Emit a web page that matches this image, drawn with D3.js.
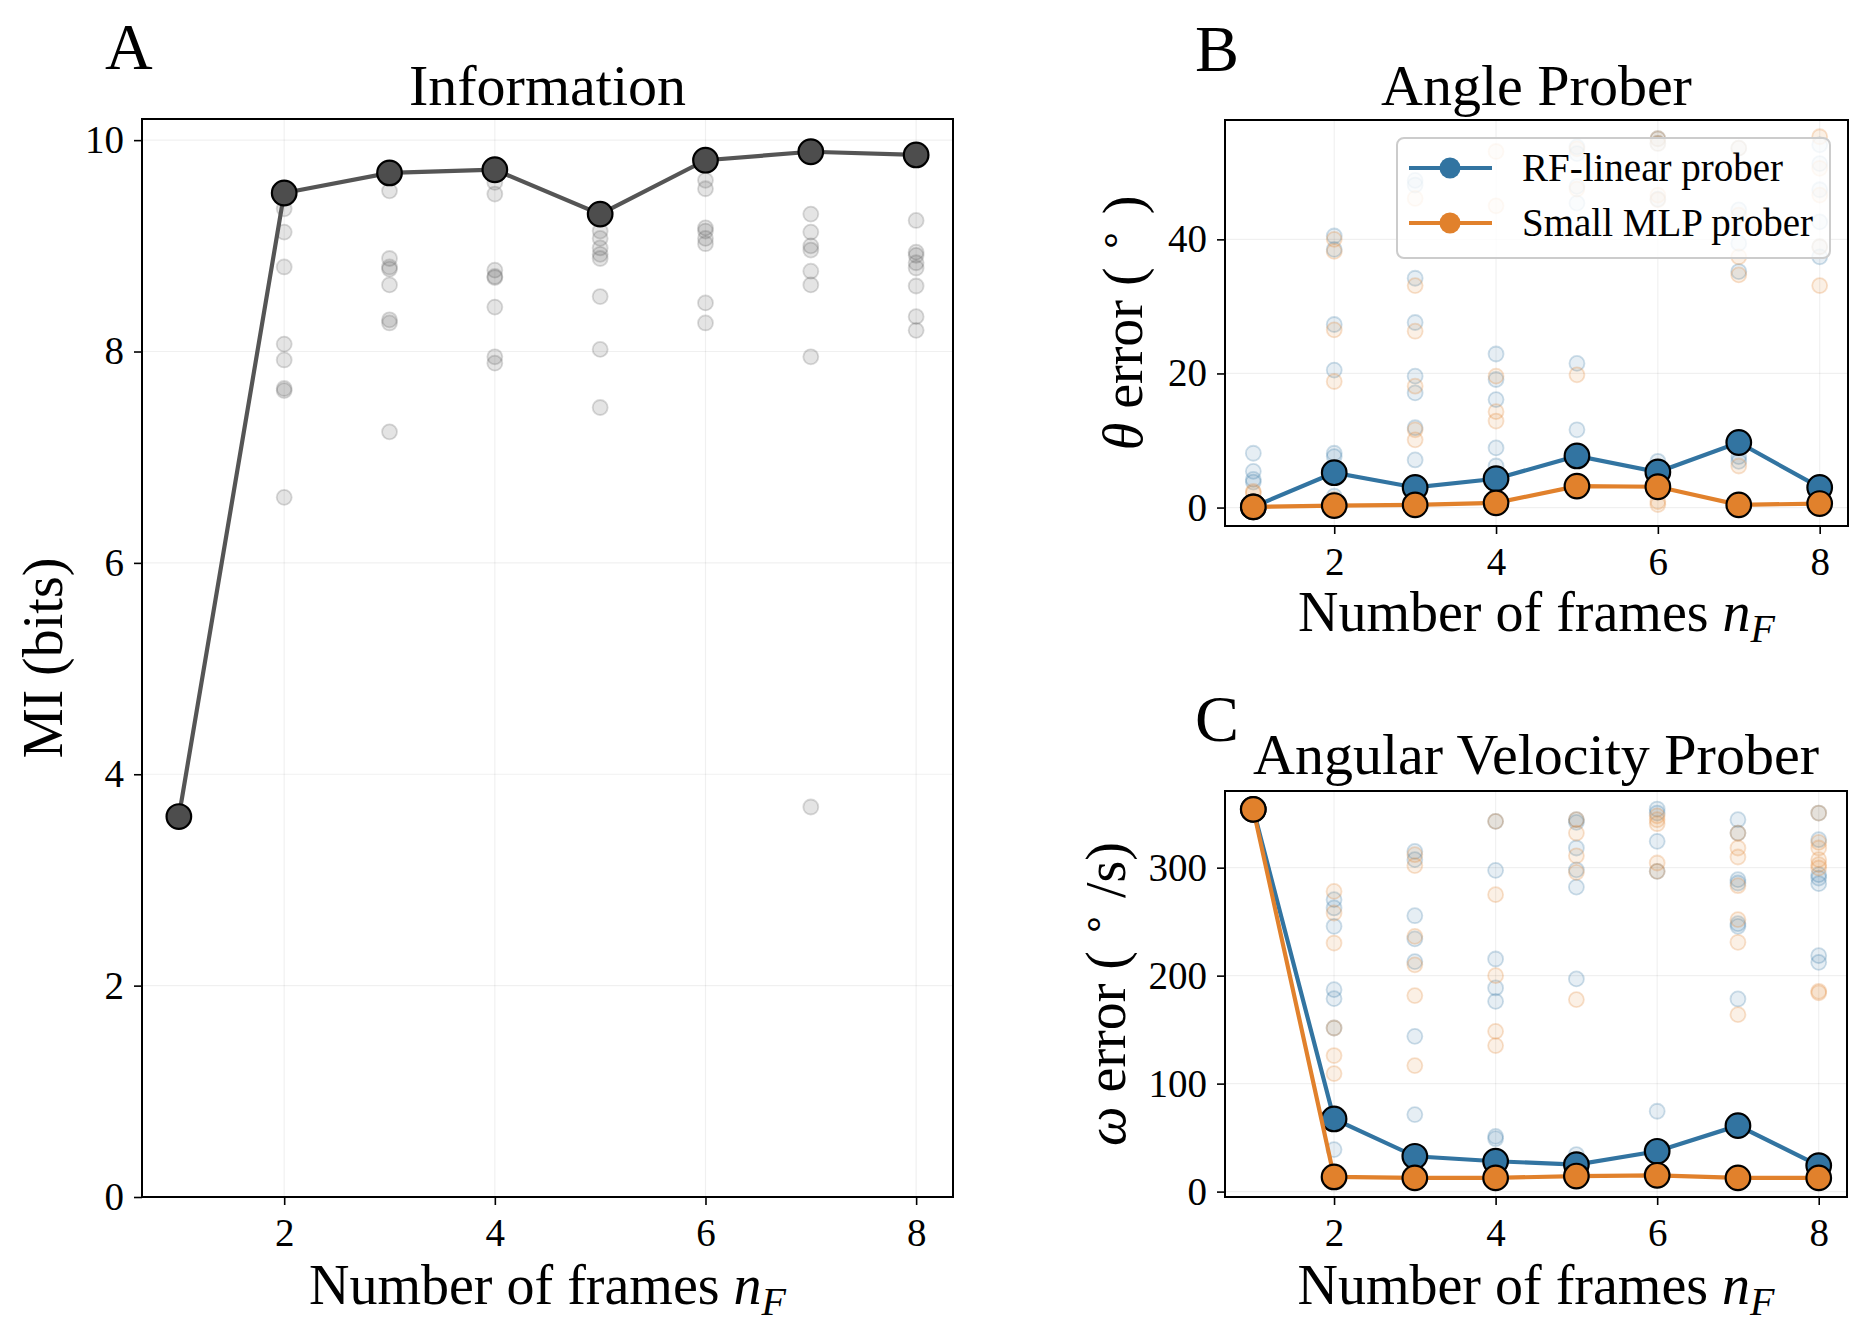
<!DOCTYPE html>
<html>
<head>
<meta charset="utf-8">
<script src="https://cdn.jsdelivr.net/npm/d3@7/dist/d3.min.js"></script>
<style>
  body { margin: 0; background: #fff; }
  svg { display: block; }
  text { font-family: 'Liberation Serif', 'Times New Roman', serif; fill: #000; }
</style>
</head>
<body>
<svg width="1868" height="1338"></svg>
<script>
// number of frames on every x axis
const frames = [1, 2, 3, 4, 5, 6, 7, 8];
const xTicks = [2, 4, 6, 8];

// A: mutual information, best run + every seed
const miBest = [3.60, 9.50, 9.69, 9.72, 9.30, 9.81, 9.89, 9.86];
const miSeeds = [
  [3.60],
  [9.35, 9.13, 8.80, 8.07, 7.92, 7.65, 7.63, 6.62],
  [9.52, 8.88, 8.80, 8.78, 8.63, 8.30, 8.27, 7.24],
  [9.60, 9.49, 8.77, 8.71, 8.70, 8.42, 7.95, 7.89],
  [9.14, 9.07, 8.98, 8.92, 8.88, 8.52, 8.02, 7.47],
  [9.62, 9.54, 9.17, 9.14, 9.07, 9.02, 8.46, 8.27],
  [9.30, 9.13, 9.00, 8.96, 8.76, 8.63, 7.95, 3.69],
  [9.24, 8.94, 8.91, 8.84, 8.79, 8.62, 8.33, 8.20],
];
const miTicks = [0, 2, 4, 6, 8, 10];

// B: angle error (degrees)
const angleLinear = [0.1, 5.2, 3.0, 4.3, 7.7, 5.3, 9.7, 3.0];
const angleMlp = [0.1, 0.3, 0.4, 0.7, 3.2, 3.1, 0.4, 0.6];
const angleLinearSeeds = [
  [8.1, 5.4, 4.2, 3.8, 0.1],
  [40.5, 38.5, 27.3, 20.5, 8.1, 7.6, 1.7],
  [48.8, 48.1, 34.2, 27.6, 19.6, 17.1, 11.9, 7.1],
  [22.9, 19.1, 16.1, 8.9, 6.2],
  [53.8, 52.8, 47.9, 45.4, 21.5, 11.6],
  [55.0, 54.3, 46.0, 6.9],
  [53.6, 44.4, 39.4, 35.2, 7.6, 6.9],
  [54.1, 51.3, 47.4, 42.6, 38.9, 37.4],
];
const angleMlpSeeds = [
  [2.4, 2.2, 0.1],
  [40.0, 38.2, 26.5, 18.8, 1.2],
  [46.1, 33.1, 26.3, 18.1, 11.6, 10.1],
  [53.1, 45.0, 19.6, 14.3, 12.9],
  [53.5, 47.5, 19.8],
  [55.0, 54.3, 46.6, 45.9, 0.9, 0.45],
  [53.6, 43.6, 37.4, 34.7, 6.2],
  [55.3, 50.6, 46.6, 38.9, 33.1],
];
const angleTicks = [0, 20, 40];

// C: angular velocity error (degrees / s)
const velLinear = [354, 67.3, 32.7, 28.1, 25.0, 37.3, 61.1, 24.1];
const velMlp = [354, 13.6, 12.7, 12.7, 14.4, 15.1, 12.7, 12.7];
const velLinearSeeds = [
  [354],
  [270.4, 262.7, 245.7, 187, 178.7, 151.5, 38.9],
  [315, 307.4, 255.5, 234, 213, 143.8, 71.3],
  [342.9, 297.5, 215.4, 188.6, 176.2, 51.2, 49],
  [344.4, 342, 318.2, 298, 282, 197, 34.3],
  [354.3, 350.6, 324.4, 296.6, 74.4],
  [344.4, 332, 288.9, 285.8, 248.1, 245.7, 178.4],
  [350.6, 325.9, 293.5, 290.4, 285.2, 218.5, 212.3],
];
const velMlpSeeds = [
  [354],
  [278, 258, 230.2, 151.5, 126, 109.3],
  [312, 301.9, 236.4, 210, 181.5, 116.7],
  [342.9, 275, 200, 148.4, 135.2],
  [344.4, 332, 311, 295.7, 177.8],
  [348, 344.4, 340.7, 304.3, 296.6],
  [332, 318.2, 309.9, 283.3, 251.9, 230.9, 163.9],
  [350.6, 323.4, 318.2, 307.4, 302.8, 299.7, 185.5, 184],
];
const velTicks = [0, 100, 200, 300];

const legendNames = ['RF-linear prober', 'Small MLP prober'];
const colors = { grey: '#555555', blue: '#3274a1', orange: '#e1812c' };

const svg = d3.select('svg');

// one matplotlib-like axes box
function makePanel(box, yDomain, yTicks) {
  var p = {};
  p.x = d3.scaleLinear().domain([0.65, 8.35]).range([box.left, box.right]);
  p.y = d3.scaleLinear().domain(yDomain).range([box.bottom, box.top]);
  p.g = svg.append('g');

  // faint grid
  var grid = p.g.append('g').attr('stroke', '#000').attr('stroke-opacity', 0.06).attr('stroke-width', 1.2);
  grid.selectAll('.gx').data(xTicks).enter().append('line')
    .attr('x1', p.x).attr('x2', p.x).attr('y1', box.top).attr('y2', box.bottom);
  grid.selectAll('.gy').data(yTicks).enter().append('line')
    .attr('y1', p.y).attr('y2', p.y).attr('x1', box.left).attr('x2', box.right);

  p.marks = p.g.append('g');

  // axes
  var ax = p.g.append('g').attr('transform', 'translate(0,' + box.bottom + ')')
    .call(d3.axisBottom(p.x).tickValues(xTicks).tickFormat(d3.format('d')).tickSize(8).tickPadding(13).tickSizeOuter(0));
  var ay = p.g.append('g').attr('transform', 'translate(' + box.left + ',0)')
    .call(d3.axisLeft(p.y).tickValues(yTicks).tickFormat(d3.format('d')).tickSize(8).tickPadding(10).tickSizeOuter(0));
  [ax, ay].forEach(function(a) {
    a.select('.domain').remove();
    a.selectAll('line').attr('stroke', '#000').attr('stroke-width', 1.6);
    a.selectAll('text').attr('font-size', 39).attr('font-family', "'Liberation Serif', serif");
  });

  // spines
  p.g.append('rect').attr('x', box.left).attr('y', box.top)
    .attr('width', box.right - box.left).attr('height', box.bottom - box.top)
    .attr('fill', 'none').attr('stroke', '#000').attr('stroke-width', 2);
  return p;
}

function seedDots(p, seeds, color) {
  var pts = [];
  seeds.forEach(function(list, i) {
    list.forEach(function(v) { pts.push({ f: frames[i], v: v }); });
  });
  var isGrey = color == colors.grey;
  p.marks.append('g').selectAll('circle').data(pts).enter().append('circle')
    .attr('cx', function(d) { return p.x(d.f); })
    .attr('cy', function(d) { return p.y(d.v); })
    .attr('r', 7.5)
    .attr('fill', color).attr('fill-opacity', isGrey ? 0.16 : 0.12)
    .attr('stroke', color).attr('stroke-opacity', isGrey ? 0.22 : 0.24)
    .attr('stroke-width', 1.8);
}

function mainLine(p, values, color, fill) {
  var line = d3.line().x(function(d, i) { return p.x(frames[i]); }).y(function(d) { return p.y(d); });
  p.marks.append('path').datum(values).attr('d', line)
    .attr('fill', 'none').attr('stroke', color).attr('stroke-width', 4.2);
  p.marks.append('g').selectAll('circle').data(values).enter().append('circle')
    .attr('cx', function(d, i) { return p.x(frames[i]); })
    .attr('cy', function(d) { return p.y(d); })
    .attr('r', 12.3).attr('fill', fill || color).attr('stroke', '#000').attr('stroke-width', 2.2);
}

function text(x, y, size, str, anchor) {
  return svg.append('text').attr('x', x).attr('y', y).attr('font-size', size)
    .attr('text-anchor', anchor || 'middle').text(str);
}

function framesLabel(x, y) {
  var t = text(x, y, 56, 'Number of frames ');
  t.append('tspan').attr('font-style', 'italic').text('n');
  t.append('tspan').attr('font-style', 'italic').attr('font-size', 40).attr('dy', 11).text('F');
}

// rotated y label, x is the baseline
function yLabel(x, y, build) {
  var t = svg.append('text').attr('transform', 'translate(' + x + ',' + y + ') rotate(-90)')
    .attr('font-size', 56).attr('text-anchor', 'middle');
  build(t);
}

// ---- panel A
var pa = makePanel({ left: 142, right: 953, top: 119, bottom: 1197 }, [0, 10.2], miTicks);
seedDots(pa, miSeeds, colors.grey);
mainLine(pa, miBest, colors.grey, '#4d4d4d');
text(547.5, 105, 58, 'Information');
text(105, 69, 66, 'A', 'start');
framesLabel(547.5, 1304);
yLabel(62, 658, function(t) { t.text('MI (bits)'); });

// ---- panel B
var pb = makePanel({ left: 1225, right: 1848, top: 120, bottom: 526 }, [-2.75, 57.8], angleTicks);
seedDots(pb, angleLinearSeeds, colors.blue);
seedDots(pb, angleMlpSeeds, colors.orange);
mainLine(pb, angleLinear, colors.blue);
mainLine(pb, angleMlp, colors.orange);
text(1536.5, 105, 58, 'Angle Prober');
text(1195, 71, 66, 'B', 'start');
framesLabel(1536.5, 631);
yLabel(1142, 323, function(t) {
  t.append('tspan').attr('font-style', 'italic').text('\u03b8');
  t.append('tspan').text(' error ( ');
  t.append('tspan').attr('font-size', 40).attr('dy', -18).text('\u2218');
  t.append('tspan').attr('dy', 18).text(' )');
});

// legend in B
var lg = svg.append('g');
lg.append('rect').attr('x', 1397).attr('y', 138).attr('width', 433).attr('height', 120).attr('rx', 7)
  .attr('fill', '#fff').attr('fill-opacity', 0.8).attr('stroke', '#cccccc').attr('stroke-width', 2);
[colors.blue, colors.orange].forEach(function(c, i) {
  var cy = 168 + i * 55;
  lg.append('line').attr('x1', 1409).attr('x2', 1492).attr('y1', cy).attr('y2', cy)
    .attr('stroke', c).attr('stroke-width', 4.2);
  lg.append('circle').attr('cx', 1450).attr('cy', cy).attr('r', 10.5).attr('fill', c);
  lg.append('text').attr('x', 1522).attr('y', cy + 13).attr('font-size', 39).text(legendNames[i]);
});

// ---- panel C
var pc = makePanel({ left: 1225, right: 1847, top: 791, bottom: 1197 }, [-5, 371], velTicks);
seedDots(pc, velLinearSeeds, colors.blue);
seedDots(pc, velMlpSeeds, colors.orange);
mainLine(pc, velLinear, colors.blue);
mainLine(pc, velMlp, colors.orange);
text(1536, 774, 58, 'Angular Velocity Prober');
text(1195, 741, 66, 'C', 'start');
framesLabel(1536, 1304);
yLabel(1125, 994, function(t) {
  t.append('tspan').attr('font-style', 'italic').text('\u03c9');
  t.append('tspan').text(' error ( ');
  t.append('tspan').attr('font-size', 40).attr('dy', -18).text('\u2218');
  t.append('tspan').attr('dy', 18).text(' /s)');
});
</script>
</body>
</html>
